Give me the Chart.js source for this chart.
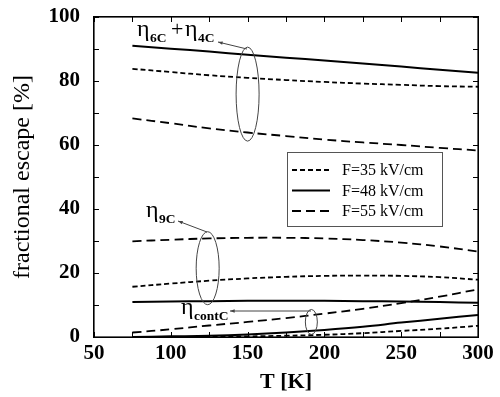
<!DOCTYPE html>
<html>
<head>
<meta charset="utf-8">
<script src="https://cdn.jsdelivr.net/npm/chart.js@4.4.1/dist/chart.umd.min.js"></script>
<style>
  html, body { margin: 0; padding: 0; background: #fff; }
  #wrap { width: 500px; height: 397px; position: relative; }
</style>
</head>
<body>
<div id="wrap"><canvas id="chart"></canvas></div>
<script>
// Temperature grid (K)
const temps = [75, 100, 125, 150, 175, 200, 225, 250, 275, 300];

// eta_6C + eta_4C
const eta64_F35 = [83.8, 82.8, 81.8, 81.0, 80.3, 79.7, 79.2, 78.8, 78.4, 78.2];
const eta64_F48 = [91.0, 90.1, 89.2, 88.2, 87.3, 86.4, 85.5, 84.5, 83.5, 82.6];
const eta64_F55 = [68.3, 66.8, 65.2, 63.9, 62.8, 61.7, 60.8, 60.0, 59.1, 58.3];

// eta_9C
const eta9_F35 = [15.7, 16.7, 17.6, 18.3, 18.8, 19.1, 19.2, 19.1, 18.7, 17.9];
const eta9_F48 = [10.9, 11.1, 11.2, 11.3, 11.3, 11.3, 11.2, 11.1, 10.9, 10.7];
const eta9_F55 = [29.9, 30.4, 30.8, 31.0, 31.0, 30.8, 30.3, 29.5, 28.3, 26.7];

// eta_contC
const etaC_F35 = [0.0, 0.0, 0.1, 0.2, 0.4, 0.7, 1.2, 1.9, 2.6, 3.5];
const etaC_F48 = [0.0, 0.2, 0.4, 0.8, 1.4, 2.2, 3.2, 4.5, 5.7, 6.9];
const etaC_F55 = [1.4, 2.4, 3.6, 4.7, 5.9, 7.3, 8.8, 10.6, 12.6, 14.9];

const legendLabels = ["F=35 kV/cm", "F=48 kV/cm", "F=55 kV/cm"];
const xTicks = [50, 100, 150, 200, 250, 300];
const yTicks = [0, 20, 40, 60, 80, 100];

// Line style per field
const styles = [
    { dash: [5, 3], width: 1.8 },
    { dash: [], width: 2 },
    { dash: [9, 5], width: 1.8 },
];

const serif = "'Liberation Serif', 'DejaVu Serif', serif";

function toPoints(values) {
    return values.map((v, i) => ({ x: temps[i], y: v }));
}

function makeSet(values, field) {
    return {
        data: toPoints(values),
        borderColor: "#000",
        borderWidth: styles[field].width,
        borderDash: styles[field].dash,
        pointRadius: 0,
        tension: 0.4,
        fill: false,
    };
}

const datasets = [
    makeSet(eta64_F35, 0), makeSet(eta64_F48, 1), makeSet(eta64_F55, 2),
    makeSet(eta9_F35, 0), makeSet(eta9_F48, 1), makeSet(eta9_F55, 2),
    makeSet(etaC_F35, 0), makeSet(etaC_F48, 1), makeSet(etaC_F55, 2),
];

/**
 * Draws eta symbol at x with a subscript starting at subX
 */
function drawEta(ctx, x, y, subX, sub) {
    ctx.font = `24px ${serif}`;
    ctx.fillText("\u03b7", x, y);
    ctx.font = `bold 13.5px ${serif}`;
    ctx.fillText(sub, subX, y + 6);
}

function drawArrow(ctx, x1, y1, x2, y2) {
    // line from (x2,y2) to (x1,y1) with small head at (x1,y1)
    ctx.beginPath();
    ctx.moveTo(x2, y2);
    ctx.lineTo(x1, y1);
    ctx.stroke();
    const a = Math.atan2(y1 - y2, x1 - x2);
    ctx.beginPath();
    ctx.moveTo(x1, y1);
    ctx.lineTo(x1 - 5 * Math.cos(a - 0.35), y1 - 5 * Math.sin(a - 0.35));
    ctx.lineTo(x1 - 5 * Math.cos(a + 0.35), y1 - 5 * Math.sin(a + 0.35));
    ctx.closePath();
    ctx.fill();
}

const framePlugin = {
    id: "frame",
    afterDraw(chart) {
        const ctx = chart.ctx;
        const xs = chart.scales.x;
        const ys = chart.scales.y;
        const l = Math.round(xs.getPixelForValue(50)), r = Math.round(xs.getPixelForValue(300));
        const t0 = Math.round(ys.getPixelForValue(100)), b = Math.round(ys.getPixelForValue(0));
        ctx.save();
        ctx.setLineDash([]);

        // Legend box
        const lx = 287, ly = 152, lw = 155, lh = 74;
        ctx.fillStyle = "#fff";
        ctx.fillRect(lx, ly, lw, lh);
        ctx.strokeStyle = "#555";
        ctx.lineWidth = 1;
        ctx.strokeRect(lx + 0.5, ly + 0.5, lw, lh);
        ctx.fillStyle = "#000";
        ctx.strokeStyle = "#000";
        ctx.font = `16px ${serif}`;
        ctx.textBaseline = "middle";
        legendLabels.forEach((label, i) => {
            const yy = ly + 18 + i * 20.5;
            ctx.lineWidth = styles[i].width;
            ctx.setLineDash(styles[i].dash);
            ctx.beginPath();
            ctx.moveTo(lx + 5, yy); ctx.lineTo(lx + 43, yy);
            ctx.stroke();
            ctx.setLineDash([]);
            ctx.fillText(label, lx + 55, yy + 1);
        });

        // Annotation ellipses (placed in data space)
        ctx.strokeStyle = "#444";
        ctx.lineWidth = 1;
        const ellipse = (t, v, rx, ry) => {
            ctx.beginPath();
            ctx.ellipse(xs.getPixelForValue(t), ys.getPixelForValue(v), rx, ry, 0, 0, 2 * Math.PI);
            ctx.stroke();
        };
        ellipse(150, 75.9, 11.5, 47);
        ellipse(124, 21.5, 11.5, 36.5);
        ellipse(191.5, 4.7, 6, 12.5);

        // Labels
        ctx.fillStyle = "#000";
        ctx.textBaseline = "alphabetic";
        drawEta(ctx, 137, 36, 150, "6C");
        ctx.font = `22px ${serif}`;
        ctx.fillText("+", 171, 36);
        drawEta(ctx, 185, 36, 198, "4C");
        drawEta(ctx, 146, 217, 159, "9C");
        drawEta(ctx, 181, 314, 194, "contC");

        // Pointer lines
        ctx.strokeStyle = "#444";
        ctx.fillStyle = "#444";
        drawArrow(ctx, 218, 42, 247, 49);
        drawArrow(ctx, 178, 221, 207, 232);
        drawArrow(ctx, 230, 311, 311, 311);

        // Frame and inside ticks on all four sides (filled rects)
        ctx.fillStyle = "#000";
        ctx.fillRect(l - 1, t0 - 1, r - l + 2, 1.6);
        ctx.fillRect(l - 1, b - 0.6, r - l + 2, 1.6);
        ctx.fillRect(l - 1, t0 - 1, 1.6, b - t0 + 2);
        ctx.fillRect(r - 0.6, t0 - 1, 1.6, b - t0 + 2);
        for (let t = 50; t <= 300; t += 25) {
            const px = Math.round(xs.getPixelForValue(t));
            ctx.fillRect(px, b - 5, 1, 5);
            ctx.fillRect(px, t0, 1, 5);
        }
        for (let v = 0; v <= 100; v += 10) {
            const py = Math.round(ys.getPixelForValue(v));
            ctx.fillRect(l, py, 5, 1);
            ctx.fillRect(r - 5, py, 5, 1);
        }

        ctx.restore();
    },
};

new Chart(document.getElementById("chart"), {
    type: "line",
    data: { datasets },
    options: {
        responsive: true,
        maintainAspectRatio: false,
        animation: false,
        devicePixelRatio: 1,
        layout: { padding: { left: 0, right: 22, top: 17, bottom: 0 } },
        plugins: { legend: { display: false }, tooltip: { enabled: false } },
        scales: {
            x: {
                type: "linear",
                min: 50,
                max: 300,
                afterFit: (s) => { s.height = 60; },
                afterBuildTicks: (s) => { s.ticks = xTicks.map((v) => ({ value: v })); },
                ticks: { color: "#000", padding: 4, font: { family: serif, size: 21, weight: "bold" } },
                grid: { drawOnChartArea: false, drawTicks: false },
                border: { display: false },
                title: {
                    display: true,
                    text: "T [K]",
                    color: "#000",
                    font: { family: serif, size: 22, weight: "bold" },
                    padding: { top: 0, bottom: 1 },
                },
            },
            y: {
                min: 0,
                max: 100,
                afterFit: (s) => { s.width = 94; },
                afterBuildTicks: (s) => { s.ticks = yTicks.map((v) => ({ value: v })); },
                ticks: { color: "#000", padding: 14, font: { family: serif, size: 21, weight: "bold", lineHeight: 0.2 } },
                grid: { drawOnChartArea: false, drawTicks: false },
                border: { display: false },
                title: {
                    display: true,
                    text: "fractional escape [%]",
                    color: "#000",
                    font: { family: serif, size: 24 },
                    padding: { top: 8, bottom: 0 },
                },
            },
        },
    },
    plugins: [framePlugin],
});
</script>
</body>
</html>
